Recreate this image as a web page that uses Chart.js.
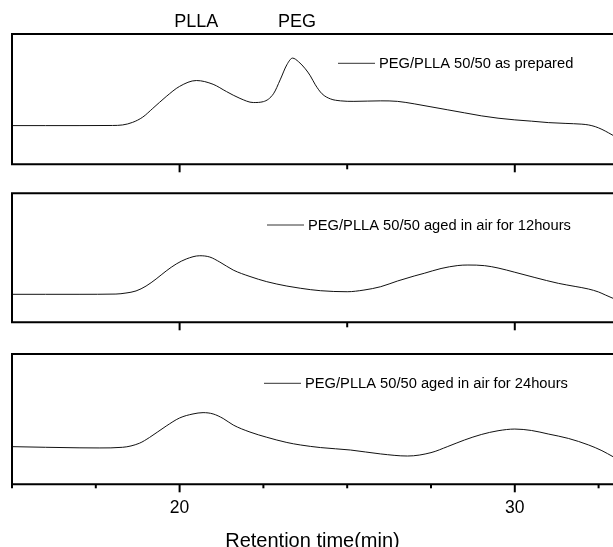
<!DOCTYPE html>
<html><head><meta charset="utf-8">
<script src="https://cdn.jsdelivr.net/npm/chart.js@4.4.1/dist/chart.umd.min.js"></script>
<style>
html,body{margin:0;padding:0;background:#fff;overflow:hidden;}
#wrap{position:relative;width:613px;height:547px;overflow:hidden;background:#fff;}
canvas{position:absolute;left:0;}
</style></head><body>
<div id="wrap">
<canvas id="c1" width="613" height="180" style="top:0px"></canvas>
<canvas id="c2" width="613" height="160" style="top:180px"></canvas>
<canvas id="c3" width="613" height="220" style="top:340px"></canvas>
</div>
<script>
// ---- data ----
const seriesLabels = ['PEG/PLLA 50/50 as prepared', 'PEG/PLLA 50/50 aged in air for 12hours', 'PEG/PLLA 50/50 aged in air for 24hours'];
const xTitle = 'Retention time(min)';
const peakNames = ['PLLA', 'PEG'];
const peakX = [20.5, 23.5];
const tickLabels = [20, 30];
const ticksUpper = [20, 25, 30];
const ticksLower = [15, 17.5, 20, 22.5, 25, 27.5, 30, 32.5];

const x1 = [15,16,17,18,18.3,18.6,18.9,19.2,19.6,20.0,20.5,21.0,21.4,21.8,22.2,22.5,22.8,23.0,23.2,23.37,23.55,23.75,23.9,24.05,24.25,24.5,24.8,25.2,26.0,26.5,27.0,27.5,28.0,28.5,29.0,29.5,30.0,30.5,31.0,31.5,32.0,32.2,32.4,32.6,32.8,32.93];
const y1 = [29.7,29.7,29.7,29.8,30.2,32.2,36.2,42.9,52.0,59.8,64.3,61.4,55.8,50.6,47.4,48.1,54.1,64.8,76.4,81.5,78.7,73.3,67.9,61.0,54.1,50.2,48.7,48.3,48.7,48.3,46.4,44.1,41.8,39.5,37.2,35.4,34.1,33.1,32.0,31.4,30.8,30.2,28.9,26.8,24.1,22.2];

const x2 = [15,16,17,18.1,18.4,18.7,19.0,19.3,19.6,19.9,20.2,20.6,20.9,21.2,21.6,22.1,22.6,23.2,23.6,24.2,25.0,25.5,26.0,26.5,27.0,27.3,27.8,28.3,28.6,29.1,29.5,30.0,30.6,31.3,31.8,32.2,32.5,32.7,32.93];
const y2 = [21.7,21.7,21.7,21.9,22.7,24.3,28.1,33.6,39.8,45.2,49.1,51.6,50.6,46.7,40.5,35.5,31.5,28.1,26.4,24.5,23.7,25.0,27.6,32.0,35.9,38.0,41.7,44.0,44.4,43.9,42.1,38.8,34.7,30.2,27.8,25.8,23.5,21.2,18.6];

const x3 = [15,16,17,17.6,18.3,18.8,19.1,19.6,20.0,20.4,20.7,21.0,21.3,21.6,22.1,22.6,23.2,23.6,24.2,25.1,26.0,26.8,27.5,28.0,28.5,29.0,29.5,30.0,30.5,31.0,31.6,32.2,32.6,32.93];
const y3 = [28.9,28.4,28.0,27.9,28.4,31.5,35.9,44.7,50.9,54.0,55.0,54.0,50.5,45.5,40.1,36.1,32.1,30.2,28.2,26.3,23.3,21.7,24.3,29.0,34.0,38.2,41.1,42.4,41.3,38.6,35.2,30.2,25.8,21.2];

const FONT = '"Liberation Sans", Arial, Helvetica, sans-serif';

const framePlugin = {
  id: 'frame',
  afterDraw(chart, args, o) {
    const {ctx, chartArea: a} = chart;
    const xs = chart.scales.x;
    ctx.save();
    ctx.strokeStyle = '#000';
    ctx.lineWidth = 2;
    ctx.beginPath();
    ctx.moveTo(a.right + 4, a.top);
    ctx.lineTo(a.left, a.top);
    ctx.lineTo(a.left, a.bottom);
    ctx.lineTo(a.right + 4, a.bottom);
    ctx.stroke();
    o.ticks.forEach(v => {
      const px = xs.getPixelForValue(v);
      const len = (v % 10 === 0) ? o.majorLen : o.minorLen;
      ctx.beginPath();
      ctx.moveTo(px, a.bottom);
      ctx.lineTo(px, a.bottom + len);
      ctx.stroke();
    });
    // legend
    const ds = chart.data.datasets[0];
    const lx = a.left + o.legendX, ly = a.top + o.legendY;
    ctx.lineWidth = 1;
    ctx.strokeStyle = '#333';
    ctx.beginPath();
    ctx.moveTo(lx, ly);
    ctx.lineTo(lx + 37, ly);
    ctx.stroke();
    ctx.fillStyle = '#000';
    ctx.font = '14.7px ' + FONT;
    ctx.textBaseline = 'middle';
    ctx.textAlign = 'left';
    ctx.fillText(ds.label, lx + 41, ly + 0.5);
    if (o.peaks) {
      ctx.font = '18px ' + FONT;
      ctx.textAlign = 'center';
      peakNames.forEach((n, i) => {
        ctx.fillText(n, xs.getPixelForValue(peakX[i]), a.top - 12);
      });
    }
    ctx.restore();
  }
};

function makeChart(id, xs, ys, label, pad, frameOpts, showAxis) {
  const pts = xs.map((x, i) => ({x: x, y: ys[i]}));
  const xScale = showAxis ? {
    type: 'linear', min: 15, max: 32.93, display: true,
    grid: {display: false, drawTicks: true, tickLength: 13.5},
    border: {display: false},
    ticks: {stepSize: 2.5, padding: 0, color: '#000', autoSkip: false, maxRotation: 0,
      font: {family: FONT, size: 17.5},
      callback: v => tickLabels.includes(v) ? String(v) : ''},
    title: {display: true, text: xTitle, color: '#000', font: {family: FONT, size: 20}, padding: {top: 10.2, bottom: 0}}
  } : {type: 'linear', min: 15, max: 32.93, display: false};
  return new Chart(document.getElementById(id), {
    type: 'line',
    data: {datasets: [{label: label, data: pts, borderColor: '#111', borderWidth: 1,
      pointRadius: 0, tension: 0.4, cubicInterpolationMode: 'monotone', fill: false}]},
    options: {
      responsive: false, animation: false, events: [],
      layout: {padding: pad},
      scales: {x: xScale, y: {min: 0, max: 100, display: false}},
      plugins: {legend: {display: false}, tooltip: {enabled: false}, frame: frameOpts}
    },
    plugins: [framePlugin]
  });
}

makeChart('c1', x1, y1, seriesLabels[0], {left: 12, right: 0, top: 34, bottom: 15.7},
  {ticks: ticksUpper, majorLen: 8, minorLen: 5, legendX: 326, legendY: 29.3, peaks: true}, false);
makeChart('c2', x2, y2, seriesLabels[1], {left: 12, right: 0, top: 13.3, bottom: 17.7},
  {ticks: ticksUpper, majorLen: 8, minorLen: 5, legendX: 255, legendY: 31.7, peaks: false}, false);
makeChart('c3', x3, y3, seriesLabels[2], {left: 12, right: 0, top: 14, bottom: 7},
  {ticks: ticksLower, majorLen: 8, minorLen: 4, legendX: 252, legendY: 29.3, peaks: false}, true);
</script>
</body></html>
